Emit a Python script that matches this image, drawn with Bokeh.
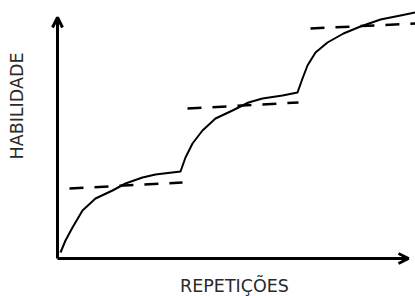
import math
from bokeh.plotting import figure
from bokeh.models import Arrow, OpenHead, Label
from bokeh.embed import file_html
from bokeh.resources import INLINE

# Learning curve (data units: repetitions vs skill)
repeticoes = [3, 8, 15, 25, 38, 55, 68, 85, 98, 123,
              128, 135, 145, 158, 175, 191, 205, 225, 240,
              245, 250, 258, 270, 286, 303, 323, 343, 358]
habilidade = [6, 18, 31, 48, 60, 68, 75, 81, 84, 87,
              101, 115, 128, 140, 148, 156, 160, 163, 166,
              180, 193, 206, 216, 225, 232, 239, 243, 246]

# Plateaus (dashed lines)
plato_x = [[12, 125], [130, 241], [253, 358]]
plato_y = [[70, 76], [150, 156], [230, 235]]

eixo_x_max = 351
eixo_y_max = 241
rotulo_x = "REPETIÇÕES"
rotulo_y = "HABILIDADE"

p = figure(width=415, height=296, output_backend="svg", toolbar_location=None,
           x_range=(-57, 358), y_range=(-38, 258),
           x_axis_location=None, y_axis_location=None, min_border=0)
p.grid.visible = False
p.outline_line_color = None
p.background_fill_color = "white"
p.border_fill_color = "white"

p.line(repeticoes, habilidade, line_color="black", line_width=2, line_join="round")
p.multi_line(plato_x, plato_y, line_color="black", line_width=2.5, line_dash="14 11")

p.add_layout(Arrow(x_start=0, y_start=0, x_end=eixo_x_max, y_end=0, line_width=3,
                   line_color="black",
                   end=OpenHead(size=10, line_width=3, line_color="black")))
p.add_layout(Arrow(x_start=0, y_start=0, x_end=0, y_end=eixo_y_max, line_width=3,
                   line_color="black",
                   end=OpenHead(size=10, line_width=3, line_color="black")))

p.add_layout(Label(x=177, y=-27, text=rotulo_x, text_align="center",
                   text_baseline="middle", text_font="DejaVu Sans",
                   text_font_size="17.5px", text_color="#2a2a2a"))
p.add_layout(Label(x=-40.5, y=152.5, text=rotulo_y, angle=math.pi / 2,
                   text_align="center", text_baseline="middle",
                   text_font="DejaVu Sans", text_font_size="17.5px", text_color="#2a2a2a"))

open("out.html", "w").write(file_html(p, INLINE))
